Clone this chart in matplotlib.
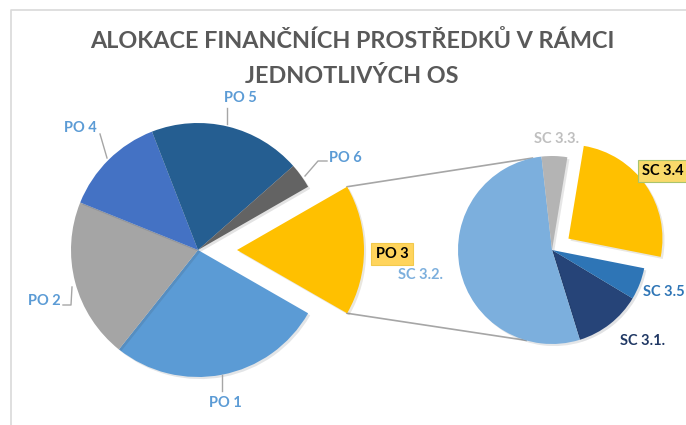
import matplotlib.pyplot as plt
import matplotlib.patheffects as pe
import numpy as np

# Podíly prioritních os (pořadí po směru hodinových ručiček, PO 3 je rozpadnutá)
po_labels = ['PO 3', 'PO 1', 'PO 2', 'PO 4', 'PO 5', 'PO 6']
po_values = [16.6, 27.4, 20.4, 13.0, 19.4, 3.2]
po_colors = ['#FFC000', '#5B9BD5', '#A5A5A5', '#4472C4', '#255E91', '#636363']

# Rozpad PO 3 na specifické cíle
sc_labels = ['SC 3.1.', 'SC 3.2.', 'SC 3.3.', 'SC 3.4', 'SC 3.5']
sc_values = [11.6, 53.0, 4.4, 25.5, 5.5]
sc_colors = ['#264478', '#7CAFDD', '#B4B4B4', '#FFC000', '#2E75B6']

H = 425
fig = plt.figure(figsize=(6.86, 4.25), dpi=100)
ax = fig.add_axes([0, 0, 1, 1])

shadow = [pe.SimplePatchShadow(offset=(1.5, -1.5), alpha=0.12), pe.Normal()]

# levý koláč
c1, r1 = (198, H - 250), 127
start1 = 360 * po_values[0] / sum(po_values) / 2
w1, _ = ax.pie(po_values, colors=po_colors, center=c1, radius=r1,
               startangle=start1, counterclock=False,
               explode=[39, 0, 0, 0, 0, 0],
               wedgeprops=dict(linewidth=0), frame=True)
for w in w1:
    w.set_path_effects(shadow)

# pravý koláč
c2, r2 = (552, H - 250), 94
w2, _ = ax.pie(sc_values, colors=sc_colors, center=c2, radius=r2,
               startangle=-31, counterclock=False,
               explode=[0, 0, 0, 20, 0],
               wedgeprops=dict(linewidth=0), frame=True)
for w in w2:
    w.set_path_effects(shadow)
ax.set_xlim(0, 686)
ax.set_ylim(0, H)
ax.axis('off')

# spojnice mezi koláči
po3 = w1[0]
for ang_a, ang_b in [(po3.theta2, 102), (po3.theta1, 254)]:
    xa = po3.center[0] + r1 * np.cos(np.radians(ang_a))
    ya = po3.center[1] + r1 * np.sin(np.radians(ang_a))
    xb = c2[0] + r2 * np.cos(np.radians(ang_b))
    yb = c2[1] + r2 * np.sin(np.radians(ang_b))
    ax.plot([xa, xb], [ya, yb], color='#A6A6A6', lw=1.2, zorder=0)

# rámeček grafu
ax.plot([11, 11, 700], [-5, H - 10, H - 10], color='#D9D9D9', lw=1.2)

font = 'Lato'
ax.text(352, H - 41, 'ALOKACE FINANČNÍCH PROSTŘEDKŮ V RÁMCI', ha='center', va='center',
        fontsize=16.8, color='#595959', fontfamily=font, fontweight='bold')
ax.text(352, H - 76, 'JEDNOTLIVÝCH OS', ha='center', va='center',
        fontsize=16.8, color='#595959', fontfamily=font, fontweight='bold')

lab = dict(fontsize=10.5, fontweight='bold', fontfamily=font, va='center')
blue = '#5B9BD5'
lead = dict(color='#A6A6A6', lw=1)

ax.text(225, H - 403, 'PO 1', ha='center', color=blue, **lab)
ax.plot([222, 222], [H - 375, H - 391], **lead)
ax.text(44, H - 301, 'PO 2', ha='center', color=blue, **lab)
ax.plot([63, 71, 72], [H - 305, H - 305, H - 287], **lead)
ax.text(80, H - 128, 'PO 4', ha='center', color=blue, **lab)
ax.plot([100, 107], [H - 134, H - 158], **lead)
ax.text(240, H - 98, 'PO 5', ha='center', color=blue, **lab)
ax.plot([227, 227], [H - 108, H - 124], **lead)
ax.text(329, H - 158, 'PO 6', ha='left', color=blue, **lab)
ax.plot([327, 318, 305], [H - 161, H - 161, H - 176], **lead)
ax.text(392, H - 254, 'PO 3', ha='center', color='black',
        bbox=dict(boxstyle='square,pad=0.3', fc='#FFD45C', ec='#F2C94C', lw=0.8), **lab)

ax.text(421, H - 275, 'SC 3.2.', ha='center', color='#7CAFDD', **lab)
ax.text(557, H - 139, 'SC 3.3.', ha='center', color='#BFBFBF', **lab)
ax.text(642, H - 171, 'SC 3.4', ha='left', color='black',
        bbox=dict(boxstyle='square,pad=0.3', fc='#F9DA6A', ec='#A9C46C', lw=0.8), **lab)
ax.text(643, H - 292, 'SC 3.5', ha='left', color='#2E75B6', **lab)
ax.text(643, H - 341, 'SC 3.1.', ha='center', color='#203864', **lab)

fig.savefig('out.png', dpi=100)
